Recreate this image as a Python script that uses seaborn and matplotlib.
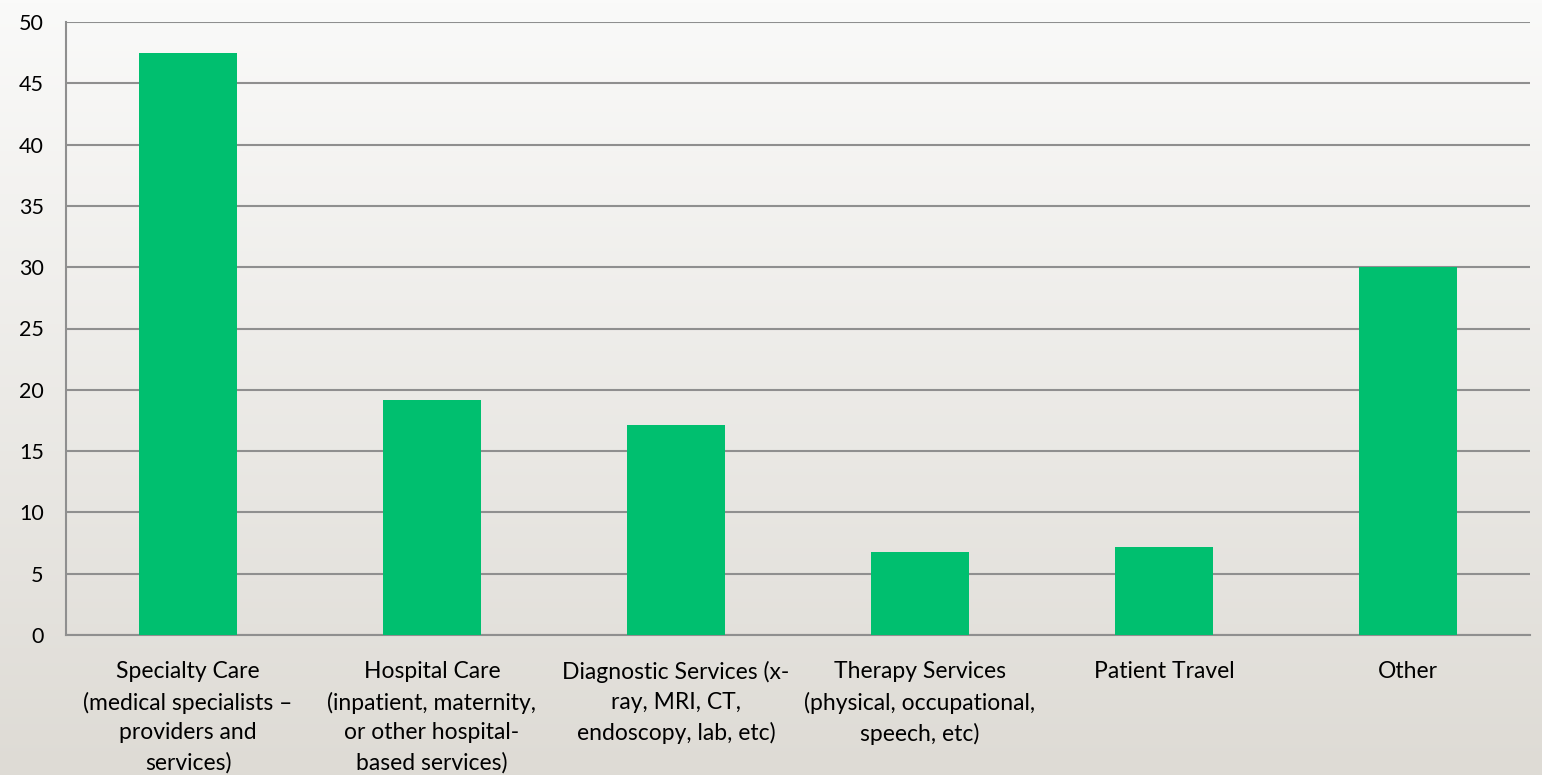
import numpy as np
import pandas as pd
import matplotlib
matplotlib.use('Agg')
import matplotlib.pyplot as plt
import seaborn as sns

categories = [
    'Specialty Care\n(medical specialists –\nproviders and\nservices)',
    'Hospital Care\n(inpatient, maternity,\nor other hospital-\nbased services)',
    'Diagnostic Services (x-\nray, MRI, CT,\nendoscopy, lab, etc)',
    'Therapy Services\n(physical, occupational,\nspeech, etc)',
    'Patient Travel',
    'Other',
]
values = [47.5, 19.2, 17.1, 6.8, 7.2, 30.0]
y_ticks = [0, 5, 10, 15, 20, 25, 30, 35, 40, 45, 50]


def main():
    df = pd.DataFrame({'category': categories, 'value': values})

    sns.set_style('white')
    plt.rcParams['font.family'] = ['Lato', 'DejaVu Sans']

    fig = plt.figure(figsize=(15.42, 7.75), dpi=100)

    # background gradient over the whole figure
    bg = fig.add_axes([0, 0, 1, 1], zorder=-10)
    top = np.array([250, 250, 249]) / 255
    bottom = np.array([222, 219, 213]) / 255
    t = np.linspace(0, 1, 256)[:, None]
    grad = top * (1 - t) + bottom * t
    bg.imshow(grad[:, None, :], aspect='auto', extent=[0, 1, 0, 1])
    bg.axis('off')

    ax = fig.add_axes([66 / 1542, 1 - 635 / 775, (1530 - 66) / 1542, (635 - 22) / 775])
    ax.patch.set_alpha(0)

    sns.barplot(data=df, x='category', y='value', color='#00BF6F',
                saturation=1, width=0.405, linewidth=0, ax=ax, zorder=3)

    ax.set_ylim(0, 50)
    ax.set_xlim(-0.5, len(categories) - 0.5)
    ax.set_yticks(y_ticks)
    ax.yaxis.grid(True, color='#8f8f8f', linewidth=1.5, zorder=0)
    ax.set_axisbelow(True)

    for s in ['top', 'right']:
        ax.spines[s].set_visible(False)
    for s in ['left', 'bottom']:
        ax.spines[s].set_color('#8f8f8f')
        ax.spines[s].set_linewidth(1.5)

    ax.set_xlabel('')
    ax.set_ylabel('')
    ax.tick_params(axis='y', length=7, width=1.2, color='#8f8f8f',
                   labelsize=15.5, pad=9, labelcolor='black')
    ax.tick_params(axis='x', which='major', length=0, labelsize=16.5, pad=19,
                   labelcolor='black')
    ax.set_xticks(np.arange(-0.5, len(categories), 1), minor=True)
    ax.tick_params(axis='x', which='minor', length=8, width=1.2, color='#8f8f8f')
    for lab in ax.get_xticklabels():
        lab.set_linespacing(1.5)
        lab.set_verticalalignment('top')

    fig.savefig('out.png', dpi=100)


if __name__ == '__main__':
    main()
